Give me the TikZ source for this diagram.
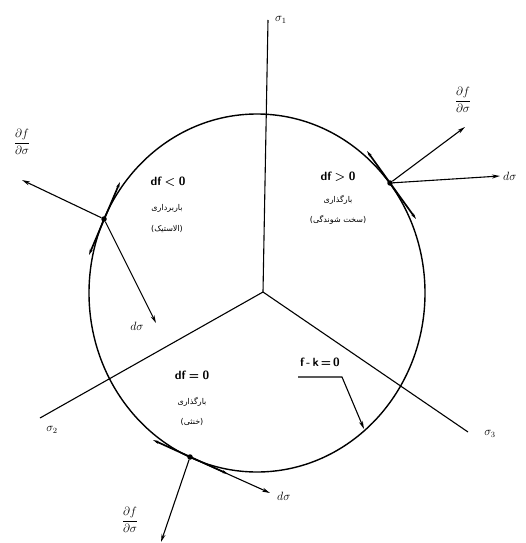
\documentclass[tikz,border=0pt]{standalone}
\usepackage{amsmath}
\usepackage{fontspec}
\usetikzlibrary{arrows.meta}
\newfontfamily\fa[Script=Arabic]{DejaVu Sans}
\TeXXeTstate=1
\begin{document}
\begin{tikzpicture}[x=1pt,y=-1pt,
  axis/.style={line width=1.1pt},
  circ/.style={line width=1.4pt},
  tang/.style={line width=1.7pt,{Stealth[length=6pt,width=3pt]}-{Stealth[length=6pt,width=3pt]}},
  vec/.style={line width=1.1pt,-{Stealth[length=8pt,width=4pt]}},
  lab/.style={inner sep=1pt,font=\large},
  state/.style={inner sep=1pt,font=\sffamily\bfseries\large},
  pers/.style={inner sep=1pt,font=\fa\footnotesize},
  dot/.style={circle,fill=black,inner sep=0pt,minimum size=5.5pt}]
\useasboundingbox (0,0) rectangle (526,543);
% centre and axes
\coordinate (O) at (263,292);
\coordinate (S1) at (268,20);
\coordinate (S2) at (40,418);
\coordinate (S3) at (468,432);
\draw[axis] (O) -- (S1);
\draw[axis] (O) -- (S2);
\draw[axis] (O) -- (S3);
\node[lab,anchor=west] (l1) at (274,20) {$\sigma_1$};
\node[lab] (l2) at (52,430) {$\sigma_2$};
\node[lab] (l3) at (490,434) {$\sigma_3$};
% yield surface
\draw[circ] (257,293) ellipse[x radius=168pt,y radius=179pt];
% points on the surface
\node[dot] (P1) at (390,183) {};
\node[dot] (P2) at (104,219) {};
\node[dot] (P3) at (190,457) {};
% tangents
\coordinate (T1a) at (367,151); \coordinate (T1b) at (416,219);
\coordinate (T2a) at (120,182); \coordinate (T2b) at (89,255);
\coordinate (T3a) at (153,440); \coordinate (T3b) at (228,474);
\draw[tang] (T1a) -- (T1b);
\draw[tang] (T2a) -- (T2b);
\draw[tang] (T3a) -- (T3b);
% vectors at P1
\coordinate (N1) at (465,127);
\coordinate (D1) at (500,176);
\draw[vec] (P1) -- (N1);
\draw[vec] (P1) -- (D1);
\node[lab] (n1) at (463,100) {$\dfrac{\partial f}{\partial \sigma}$};
\node[lab,anchor=west] (d1) at (502,176) {$d\sigma$};
% vectors at P2
\coordinate (N2) at (22,180);
\coordinate (D2) at (156,323);
\draw[vec] (P2) -- (N2);
\draw[vec] (P2) -- (D2);
\node[lab] (n2) at (22,142) {$\dfrac{\partial f}{\partial \sigma}$};
\node[lab] (d2) at (137,326) {$d\sigma$};
% vectors at P3
\coordinate (N3) at (161,542);
\coordinate (D3) at (270,493);
\draw[vec] (P3) -- (N3);
\draw[vec] (P3) -- (D3);
\node[lab] (n3) at (130,520) {$\dfrac{\partial f}{\partial \sigma}$};
\node[lab,anchor=west] (d3) at (276,496) {$d\sigma$};
% region texts
\node[state] (s1) at (168,182) {df\;<\;0};
\node[pers] (p1a) at (167,208) {\beginR باربرداری\endR};
\node[pers] (p1b) at (167,229) {\beginR (الاستیک)\endR};
\node[state] (s2) at (338,177) {df\;>\;0};
\node[pers] (p2a) at (338,200) {\beginR بارگذاری\endR};
\node[pers] (p2b) at (338,220) {\beginR (سخت شوندگی)\endR};
\node[state] (s3) at (192,375) {df\;=\;0};
\node[pers] (p3a) at (192,402) {\beginR بارگذاری\endR};
\node[pers] (p3b) at (192,422) {\beginR (خنثی)\endR};
% f-k=0 leader
\node[state] (fk) at (320,362) {f\,-\,k\,=\,0};
\coordinate (K1) at (298,377);
\coordinate (K2) at (342,377);
\coordinate (K3) at (364,429);
\draw[line width=1.1pt,-{Stealth[length=8pt,width=4pt]}] (K1) -- (K2) -- (K3);
\end{tikzpicture}
\end{document}
